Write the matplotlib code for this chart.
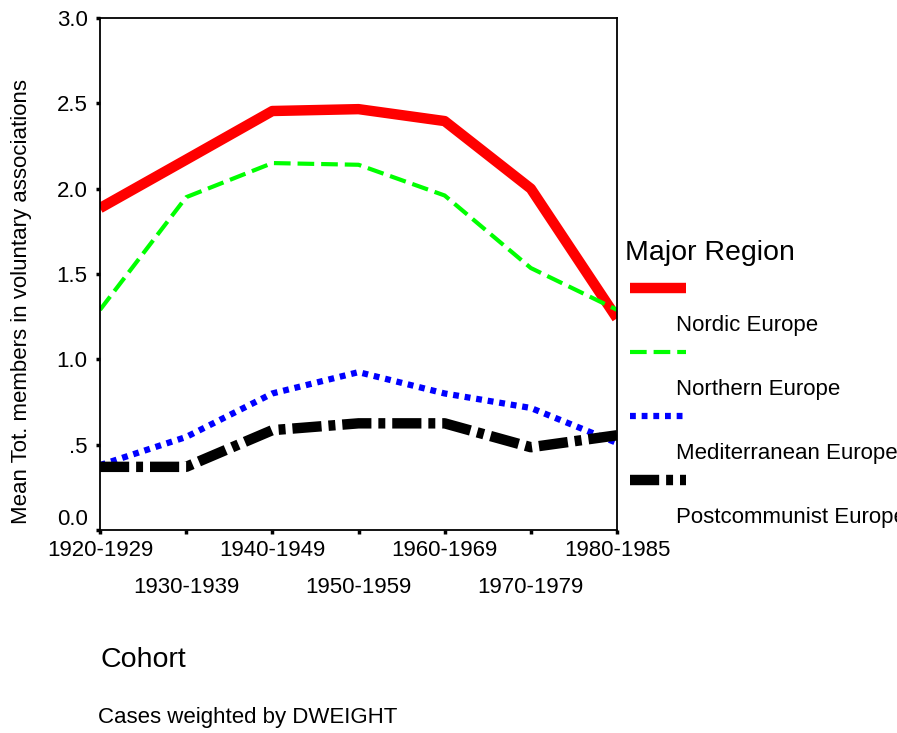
import matplotlib
matplotlib.use('Agg')
import matplotlib.pyplot as plt
from matplotlib.lines import Line2D

plt.rcParams['font.family'] = ['Liberation Sans', 'DejaVu Sans']
plt.rcParams['lines.scale_dashes'] = False

# Data
cohorts = ['1920-1929', '1930-1939', '1940-1949', '1950-1959',
           '1960-1969', '1970-1979', '1980-1985']
nordic = [1.886, 2.17, 2.455, 2.466, 2.396, 2.00, 1.24]
northern = [1.29, 1.95, 2.15, 2.14, 1.96, 1.535, 1.29]
mediterranean = [0.38, 0.545, 0.80, 0.925, 0.80, 0.715, 0.51]
postcommunist = [0.37, 0.37, 0.585, 0.625, 0.625, 0.485, 0.555]
regions = ['Nordic Europe', 'Northern Europe', 'Mediterranean Europe',
           'Postcommunist Europe']

W, H = 897, 733
fig = plt.figure(figsize=(W / 100, H / 100), dpi=100)
ax = fig.add_axes([100 / W, 1 - 530 / H, 517 / W, 512 / H])

styles = [
    dict(color='#ff0000', lw=7.5, ls='-', solid_capstyle='butt'),
    dict(color='#00ff00', lw=3.0, ls=(0, (12, 5)), dash_capstyle='butt'),
    dict(color='#0000ff', lw=4.5, ls=(0, (4.2, 4.2)), dash_capstyle='butt'),
    dict(color='#000000', lw=7.5, ls=(0, (21, 5, 5, 5)), dash_capstyle='butt'),
]
series = [nordic, northern, mediterranean, postcommunist]
x = list(range(len(cohorts)))
for vals, st in zip(series, styles):
    ax.plot(x, vals, **st)

ax.set_xlim(0, len(cohorts) - 1)
ax.set_ylim(0, 3.0)
ax.set_yticks([0, 0.5, 1.0, 1.5, 2.0, 2.5, 3.0])
ax.set_yticklabels(['0.0', '.5', '1.0', '1.5', '2.0', '2.5', '3.0'])
ax.set_xticks(x)
ax.set_xticklabels(cohorts)
for sp in ax.spines.values():
    sp.set_linewidth(1.3)
ax.tick_params(axis='both', direction='out', length=3, width=2.5,
               labelsize=16)
ax.tick_params(axis='y', pad=6)
ax.tick_params(axis='x', pad=4.5)
for i, t in enumerate(ax.xaxis.get_major_ticks()):
    if i % 2 == 1:
        t.set_pad(31)
# lowest y label sits above its tick, as in the original
ax.get_yticklabels()[0].set_verticalalignment('bottom')

fig.text(22 / W, 1 - 301 / H, 'Mean Tot. members in voluntary associations',
         rotation=90, ha='center', va='center', fontsize=16)
fig.text(100 / W, 1 - 660 / H, 'Cohort', ha='left', va='center', fontsize=20.5)
fig.text(98 / W, 1 - 717 / H, 'Cases weighted by DWEIGHT', ha='left',
         va='center', fontsize=16)

# Legend drawn by hand: handle on one row, label on the next
fig.text(625 / W, 1 - 253 / H, 'Major Region', ha='left', va='center',
         fontsize=20.5)
for k, (name, st) in enumerate(zip(regions, styles)):
    yh = 288 + 64 * k
    fig.add_artist(Line2D([630 / W, 686 / W], [1 - yh / H, 1 - yh / H],
                          transform=fig.transFigure, **st))
    fig.text(676 / W, 1 - (yh + 38) / H, name, ha='left', va='center',
             fontsize=16)

fig.savefig('out.png', dpi=100)
